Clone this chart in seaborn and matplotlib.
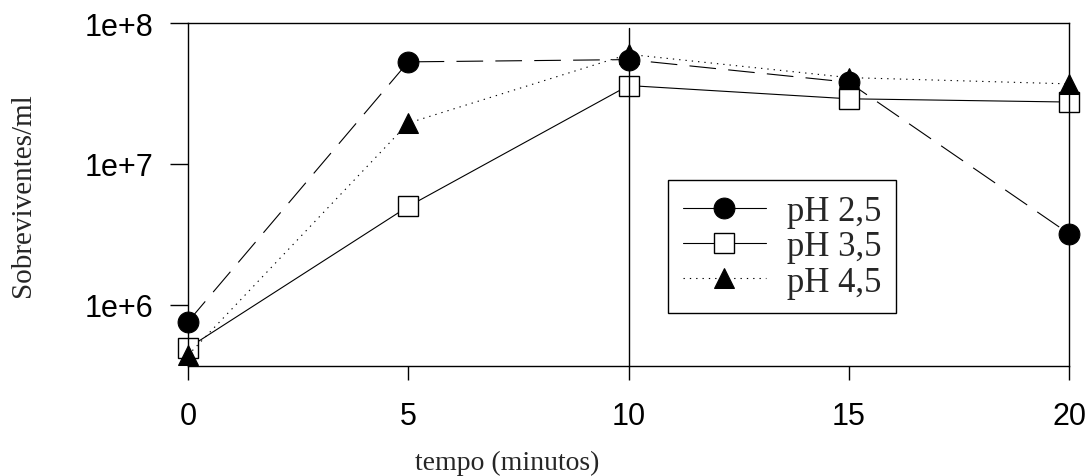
import matplotlib
matplotlib.use("Agg")
import matplotlib.pyplot as plt
import seaborn as sns
import numpy as np

# dados (sobreviventes/ml)
tempo = [0, 5, 10, 15, 20]
ph25 = [7.6e5, 5.3e7, 5.5e7, 3.8e7, 3.2e6]
ph35 = [4.95e5, 5.0e6, 3.6e7, 2.9e7, 2.75e7]
ph45 = [4.4e5, 1.95e7, 6.0e7, 4.1e7, 3.7e7]
yticks = [1e6, 1e7, 1e8]
ytick_labels = ['1e+6', '1e+7', '1e+8']

sns.set_style('ticks')
plt.rcParams['font.family'] = ['Liberation Sans', 'DejaVu Sans']
serif = ['Liberation Serif', 'DejaVu Serif']

fig = plt.figure(figsize=(10.92, 4.77), dpi=100)
ax = fig.add_axes([188 / 1092, 1 - 367 / 477, 881 / 1092, 343 / 477])

sns.lineplot(x=tempo, y=ph25, ax=ax, color='black', lw=0.8,
             linestyle=(0, (24, 11)), marker='o', markersize=15,
             markerfacecolor='black', markeredgecolor='black',
             clip_on=False, label='pH 2,5')
sns.lineplot(x=tempo, y=ph35, ax=ax, color='black', lw=0.8,
             linestyle='-', marker='s', markersize=14,
             markerfacecolor='white', markeredgecolor='black', markeredgewidth=1,
             clip_on=False, label='pH 3,5')
sns.lineplot(x=tempo, y=ph45, ax=ax, color='black', lw=0.8,
             linestyle=(0, (1.2, 4.5)), marker='^', markersize=15,
             markerfacecolor='black', markeredgecolor='black',
             clip_on=False, label='pH 4,5')

# linha vertical em t = 10
ax.axvline(10, ymin=0, ymax=0.985, color='black', lw=1)

ax.set_yscale('log')
ax.set_xlim(0, 20)
ax.set_ylim(3.69e5, 1e8)
ax.set_xticks(tempo)
ax.set_xticklabels([str(t) for t in tempo])
ax.set_yticks(yticks)
ax.set_yticklabels(ytick_labels)
ax.minorticks_off()
ax.tick_params(axis='x', direction='out', length=10, width=1, pad=15,
               labelsize=22, colors='black')
ax.tick_params(axis='y', direction='out', length=13, width=1, pad=12,
               labelsize=22, colors='black')
for s in ax.spines.values():
    s.set_visible(True)
    s.set_linewidth(1)
    s.set_color('black')

ax.set_xlabel('tempo (minutos)', fontsize=20, family=serif)
ax.xaxis.set_label_coords(0.362, -0.245)
ax.set_ylabel('Sobreviventes/ml', fontsize=21, family=serif)
ax.yaxis.set_label_coords(-0.172, 0.5)

leg = ax.legend(loc='upper left', bbox_to_anchor=(0.545, 0.542), borderaxespad=0,
                frameon=True, fancybox=False, framealpha=1, edgecolor='black',
                prop={'family': serif, 'size': 25},
                handlelength=2.4, handletextpad=0.6, labelspacing=0.07,
                borderpad=0.42)
leg.get_frame().set_linewidth(1)
# na legenda o pH 2,5 aparece com linha continua
leg.legend_handles[0].set_linestyle('-')

fig.savefig('out.png', dpi=100)
